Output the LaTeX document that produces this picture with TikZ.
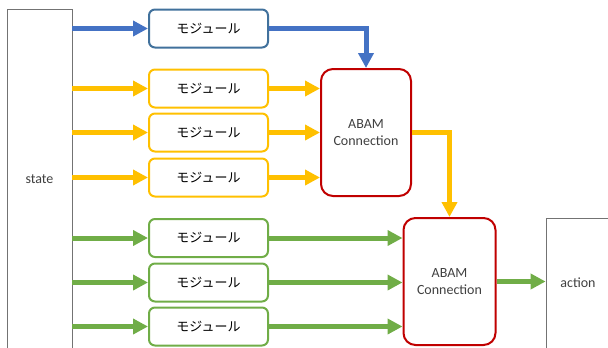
\documentclass[tikz,border=0pt]{standalone}
\usepackage{fontspec}
\setmainfont{Carlito}
\newfontfamily\jpfont{Noto Sans CJK JP}
\usetikzlibrary{arrows.meta}
\definecolor{flowblue}{RGB}{68,114,196}
\definecolor{boxblue}{RGB}{65,113,156}
\definecolor{flowyellow}{RGB}{255,192,0}
\definecolor{flowgreen}{RGB}{112,173,71}
\definecolor{abamred}{RGB}{192,0,0}
\definecolor{textgray}{RGB}{64,64,64}

\begin{document}
\begin{tikzpicture}[x=1bp,y=-1bp]
      \tikzstyle{module}=[draw, line width=2bp, fill=white, minimum width=119bp, minimum height=38bp, rounded corners=6bp, font=\jpfont\fontsize{13bp}{15bp}\selectfont]
      \tikzstyle{abam}=[draw=abamred, line width=2bp, fill=white, minimum width=90bp, minimum height=127bp, rounded corners=12bp, align=center, text=textgray, font=\fontsize{14bp}{17bp}\selectfont]
      \tikzstyle{io}=[draw=black!55, line width=0.8bp, text=textgray, font=\fontsize{14bp}{17bp}\selectfont]
      \tikzstyle{flow}=[line width=5bp, -{Triangle[length=15bp,width=15bp]}]

      \useasboundingbox (0,0) rectangle (608,347);

      % input and output
      \node (state) [io, minimum width=65bp, minimum height=340bp] at (39.5,179) {state};
      \node (action) [io, minimum width=64bp, minimum height=130bp] at (578,283) {action};

      % modules
      \node (bmod) [module, draw=boxblue] at (208.5,28.5) {モジュール};
      \node (ymod1) [module, draw=flowyellow] at (208.5,88.5) {モジュール};
      \node (ymod2) [module, draw=flowyellow] at (208.5,132.5) {モジュール};
      \node (ymod3) [module, draw=flowyellow] at (208.5,177.5) {モジュール};
      \node (gmod1) [module, draw=flowgreen] at (208.5,238) {モジュール};
      \node (gmod2) [module, draw=flowgreen] at (208.5,282.5) {モジュール};
      \node (gmod3) [module, draw=flowgreen] at (208.5,326.5) {モジュール};

      % connections
      \node (abam1) [abam] at (366,132.5) {ABAM\\Connection};
      \node (abam2) [abam, minimum width=92bp] at (449.5,281.5) {ABAM\\Connection};

      \draw [flow, flowblue] (bmod.west -| state.east) -- (bmod.west);
      \draw [flow, flowblue] (bmod.east) -| (abam1.north);

      \foreach \m in {ymod1,ymod2,ymod3} {
        \draw [flow, flowyellow] (\m.west -| state.east) -- (\m.west);
        \draw [flow, flowyellow] (\m.east) -- (\m.east -| abam1.west);
      }
      \draw [flow, flowyellow] (abam1.east) -| (abam2.north);

      \foreach \m in {gmod1,gmod2,gmod3} {
        \draw [flow, flowgreen] (\m.west -| state.east) -- (\m.west);
        \draw [flow, flowgreen] (\m.east) -- (\m.east -| abam2.west);
      }
      \draw [flow, flowgreen] (abam2.east) -- (abam2.east -| action.west);
\end{tikzpicture}
\end{document}
